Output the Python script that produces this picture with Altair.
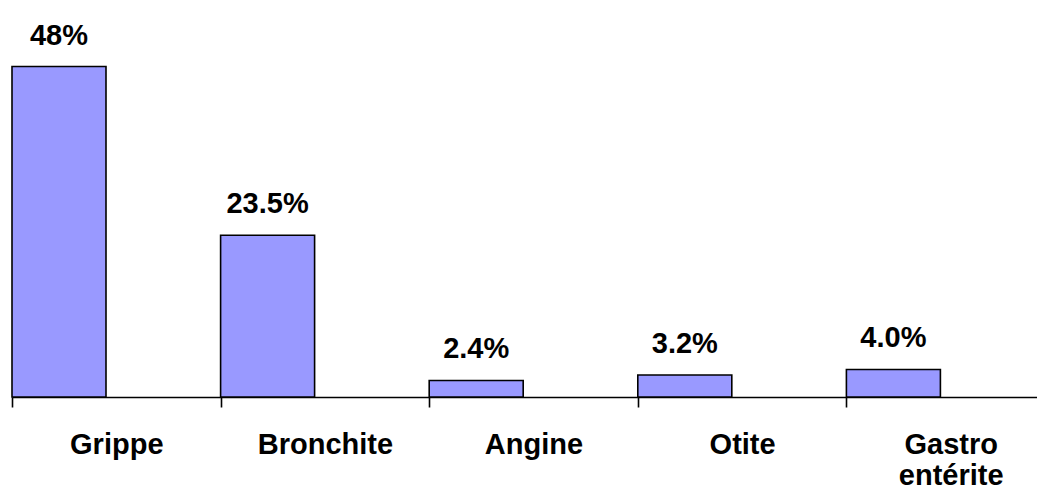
import altair as alt
import pandas as pd

categories = ["Grippe", "Bronchite", "Angine", "Otite", "Gastro entérite"]
values = [48.0, 23.5, 2.4, 3.2, 4.0]
value_labels = ["48%", "23.5%", "2.4%", "3.2%", "4.0%"]

df = pd.DataFrame({"cat": categories, "val": values, "lab": value_labels})

FONT = "Liberation Sans"
BAR_W = 94
SHIFT = -57.3

x = alt.X(
    "cat:N",
    sort=categories,
    title=None,
    scale=alt.Scale(range=[0, 1043], paddingInner=0, paddingOuter=0),
    axis=alt.Axis(
        tickBand="extent",
        domainColor="black",
        domainWidth=1.6,
        tickColor="black",
        tickWidth=1.6,
        tickSize=10,
        labelAngle=0,
        labelFont=FONT,
        labelFontSize=29,
        labelFontWeight="bold",
        labelColor="black",
        labelPadding=23,
        labelLineHeight=31,
        labelExpr="split(datum.label, ' ')",
    ),
)
y = alt.Y("val:Q", scale=alt.Scale(domain=[0, 56.5], nice=False), axis=None)

bars = alt.Chart(df).mark_bar(
    width=BAR_W, xOffset=SHIFT, color="#9999FF", stroke="black", strokeWidth=1.6
).encode(x=x, y=y)

texts = alt.Chart(df).mark_text(
    xOffset=SHIFT, dy=-22, baseline="alphabetic", font=FONT, fontSize=29,
    fontWeight="bold", color="black"
).encode(x=x, y=y, text="lab:N")

chart = (bars + texts).properties(
    width=1025,
    height=389,
    autosize=alt.AutoSizeParams(type="none"),
    padding={"left": 4, "top": 0, "right": 0, "bottom": 88},
).configure_view(stroke=None)

chart.save("out.html", embed_options={"renderer": "svg", "actions": False})
